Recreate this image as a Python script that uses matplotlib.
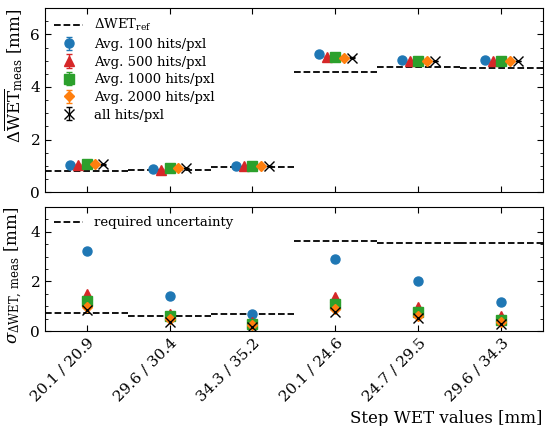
import numpy as np
import matplotlib
matplotlib.use("Agg")
import matplotlib.pyplot as plt

plt.rcParams['font.family'] = ['DejaVu Serif']
plt.rcParams['mathtext.fontset'] = 'dejavuserif'

steps = ['20.1 / 20.9', '29.6 / 30.4', '34.3 / 35.2',
         '20.1 / 24.6', '24.7 / 29.5', '29.6 / 34.3']

# mean measured step WET difference
ref_wet = [0.80, 0.85, 0.95, 4.57, 4.77, 4.74]
mean_100 = [1.05, 0.87, 0.98, 5.26, 5.03, 5.02]
mean_500 = [1.05, 0.85, 0.98, 5.15, 4.98, 4.98]
mean_1000 = [1.08, 0.90, 0.98, 5.15, 4.98, 4.98]
mean_2000 = [1.08, 0.90, 0.98, 5.12, 4.98, 4.98]
mean_all = [1.06, 0.92, 0.98, 5.12, 4.98, 4.98]

# uncertainty
req_unc = [0.74, 0.62, 0.69, 3.65, 3.53, 3.56]
sig_100 = [3.24, 1.43, 0.68, 2.92, 2.00, 1.18]
sig_500 = [1.50, 0.70, 0.35, 1.37, 0.95, 0.60]
sig_1000 = [1.19, 0.60, 0.30, 1.10, 0.75, 0.45]
sig_2000 = [0.96, 0.50, 0.25, 0.90, 0.60, 0.35]
sig_all = [0.85, 0.38, 0.18, 0.75, 0.52, 0.30]

means = [mean_100, mean_500, mean_1000, mean_2000, mean_all]
sigmas = [sig_100, sig_500, sig_1000, sig_2000, sig_all]
labels = ['Avg. 100 hits/pxl', 'Avg. 500 hits/pxl', 'Avg. 1000 hits/pxl',
          'Avg. 2000 hits/pxl', 'all hits/pxl']
colors = ['tab:blue', 'tab:red', 'tab:green', 'tab:orange', 'black']
markers = ['o', '^', 's', 'D', 'x']

x = np.arange(len(steps))
fig = plt.figure(figsize=(5.5, 4.26), dpi=100)
ax1 = fig.add_axes([0.082, 0.549, 0.905, 0.432])
ax2 = fig.add_axes([0.082, 0.223, 0.905, 0.291])

ax1.hlines(ref_wet, x - 0.5, x + 0.5, colors='k', linestyles='--', lw=1.3,
           label=r'$\Delta\mathrm{WET}_{\mathrm{ref}}$')
ax2.hlines(req_unc, x - 0.5, x + 0.5, colors='k', linestyles='--', lw=1.3,
           label='required uncertainty')

offs = [-0.2, -0.1, 0.0, 0.1, 0.2]
for i in range(5):
    ms = 5.5 if markers[i] == 'D' else 6.5
    ax1.errorbar(x + offs[i], means[i], yerr=np.array(sigmas[i]) * 0.02,
                 fmt=markers[i], color=colors[i], ms=ms, capsize=2,
                 elinewidth=1, label=labels[i])
    ax2.plot(x, sigmas[i], markers[i], color=colors[i], ms=ms)

for ax in (ax1, ax2):
    ax.set_xlim(-0.5, 5.5)
    ax.set_xticks(x)
    ax.tick_params(which='both', direction='in', top=True, right=True,
                   labelsize=11)
    ax.tick_params(which='major', length=4)
    ax.tick_params(which='minor', length=2.5)

ax1.set_ylim(0, 7)
ax1.set_yticks([0, 2, 4, 6])
ax1.set_yticks(np.arange(0, 7.01, 0.5), minor=True)
ax1.set_xticklabels([])
ax1.set_ylabel(r'$\Delta\overline{\mathrm{WET}}_{\mathrm{meas}}$ [mm]',
               fontsize=12)
ax1.legend(loc='upper left', frameon=False, fontsize=9.5,
           handlelength=2.2, borderaxespad=0.3, labelspacing=0.35)

ax2.set_ylim(0, 5)
ax2.set_yticks([0, 2, 4])
ax2.set_yticks(np.arange(0, 5.01, 0.5), minor=True)
ax2.set_xticklabels(steps, rotation=45, ha='right', rotation_mode='anchor')
ax2.set_ylabel(r'$\sigma_{\Delta\mathrm{WET,\,meas}}$ [mm]', fontsize=12)
ax2.set_xlabel('Step WET values [mm]', fontsize=12, loc='right')
ax2.legend(loc='upper left', frameon=False, fontsize=9.5,
           handlelength=2.2, borderaxespad=0.3)

ax1.yaxis.set_label_coords(-0.04, 0.63)
ax2.yaxis.set_label_coords(-0.04, 0.45)

fig.savefig('out.png', dpi=100)
